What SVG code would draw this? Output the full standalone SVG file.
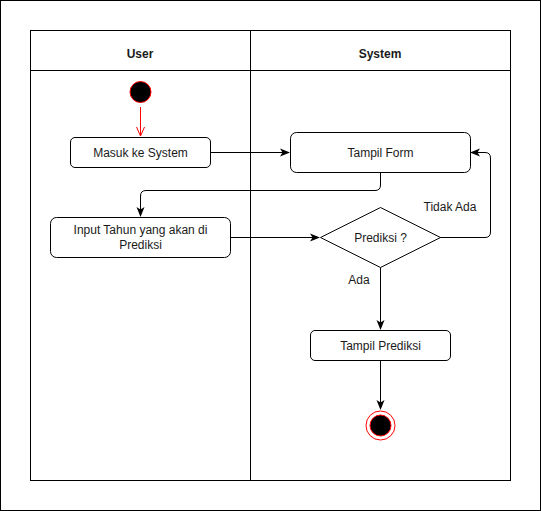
<svg xmlns="http://www.w3.org/2000/svg" width="541" height="511" viewBox="0 0 541 511">
<defs>
<style>
text{font-family:"Liberation Sans",Arial,sans-serif;font-size:12px;fill:#1a1a1a;text-anchor:middle;dominant-baseline:central}
.h{font-weight:bold}
.box{fill:#fff;stroke:#000;stroke-width:1}
.ln{fill:none;stroke:#000;stroke-width:1}
.e{fill:none;stroke:#000;stroke-width:1;marker-end:url(#a)}
</style>
<marker id="a" viewBox="0 0 10 10" refX="9" refY="5" markerWidth="10" markerHeight="10" markerUnits="userSpaceOnUse" orient="auto">
<path d="M0,1 L10,5 L0,9 L2.5,5 Z" fill="#000"/>
</marker>
<marker id="r" viewBox="0 0 10 10" refX="9" refY="5" markerWidth="10" markerHeight="10" markerUnits="userSpaceOnUse" orient="auto">
<path d="M0,1 L9,5 L0,9" fill="none" stroke="#f00" stroke-width="1"/>
</marker>
</defs>
<rect x="0.5" y="0.5" width="540" height="510" fill="#fff" stroke="#000"/>
<g id="pool">
<rect x="30.5" y="30.5" width="480" height="450" class="ln"/>
<line x1="30.5" y1="70.5" x2="510.5" y2="70.5" class="ln"/>
<line x1="250.5" y1="30.5" x2="250.5" y2="480.5" class="ln"/>
<text class="h" x="140" y="54">User</text>
<text class="h" x="380" y="54">System</text>
</g>
<g id="connectors">
<path d="M140.5,107 L140.5,136" fill="none" stroke="#f00" marker-end="url(#r)"/>
<path d="M210,152.5 L289,152.5" class="e"/>
<path d="M380.5,172 L380.5,185 Q380.5,190.5 375,190.5 L146,190.5 Q140.5,190.5 140.5,196 L140.5,216" class="e"/>
<path d="M230,237.5 L319,237.5" class="e"/>
<path d="M440,237.5 L485,237.5 Q490.5,237.5 490.5,232 L490.5,158 Q490.5,152.5 485,152.5 L471,152.5" class="e"/>
<path d="M380.5,267 L380.5,329" class="e"/>
<path d="M380.5,360 L380.5,409" class="e"/>
<text x="359" y="280">Ada</text>
<text x="450" y="207">Tidak Ada</text>
</g>
<g id="start">
<circle cx="140.5" cy="92" r="10.5" fill="#000" stroke="#f00" stroke-width="1"/>
</g>
<g id="masuk">
<rect x="70.5" y="137.5" width="140" height="30" rx="4.5" class="box"/>
<text x="140.5" y="152.5">Masuk ke System</text>
</g>
<g id="tampilform">
<rect x="290.5" y="132.5" width="180" height="40" rx="6" class="box"/>
<text x="380.5" y="152.5">Tampil Form</text>
</g>
<g id="input">
<rect x="50.5" y="217.5" width="180" height="40" rx="6" class="box"/>
<text x="140.5" y="230">Input Tahun yang akan di</text>
<text x="140.5" y="245">Prediksi</text>
</g>
<g id="decision">
<path d="M380.5,207.5 L440.5,237.5 L380.5,267.5 L320.5,237.5 Z" class="box"/>
<text x="380.5" y="237.5">Prediksi ?</text>
</g>
<g id="tampilprediksi">
<rect x="310.5" y="330.5" width="140" height="30" rx="4.5" class="box"/>
<text x="380.5" y="345.5">Tampil Prediksi</text>
</g>
<g id="end">
<circle cx="380.5" cy="425.5" r="14.5" fill="#fff" stroke="#f00" stroke-width="1"/>
<circle cx="380.5" cy="425.5" r="10.5" fill="#000" stroke="#f00" stroke-width="1"/>
</g>
</svg>
